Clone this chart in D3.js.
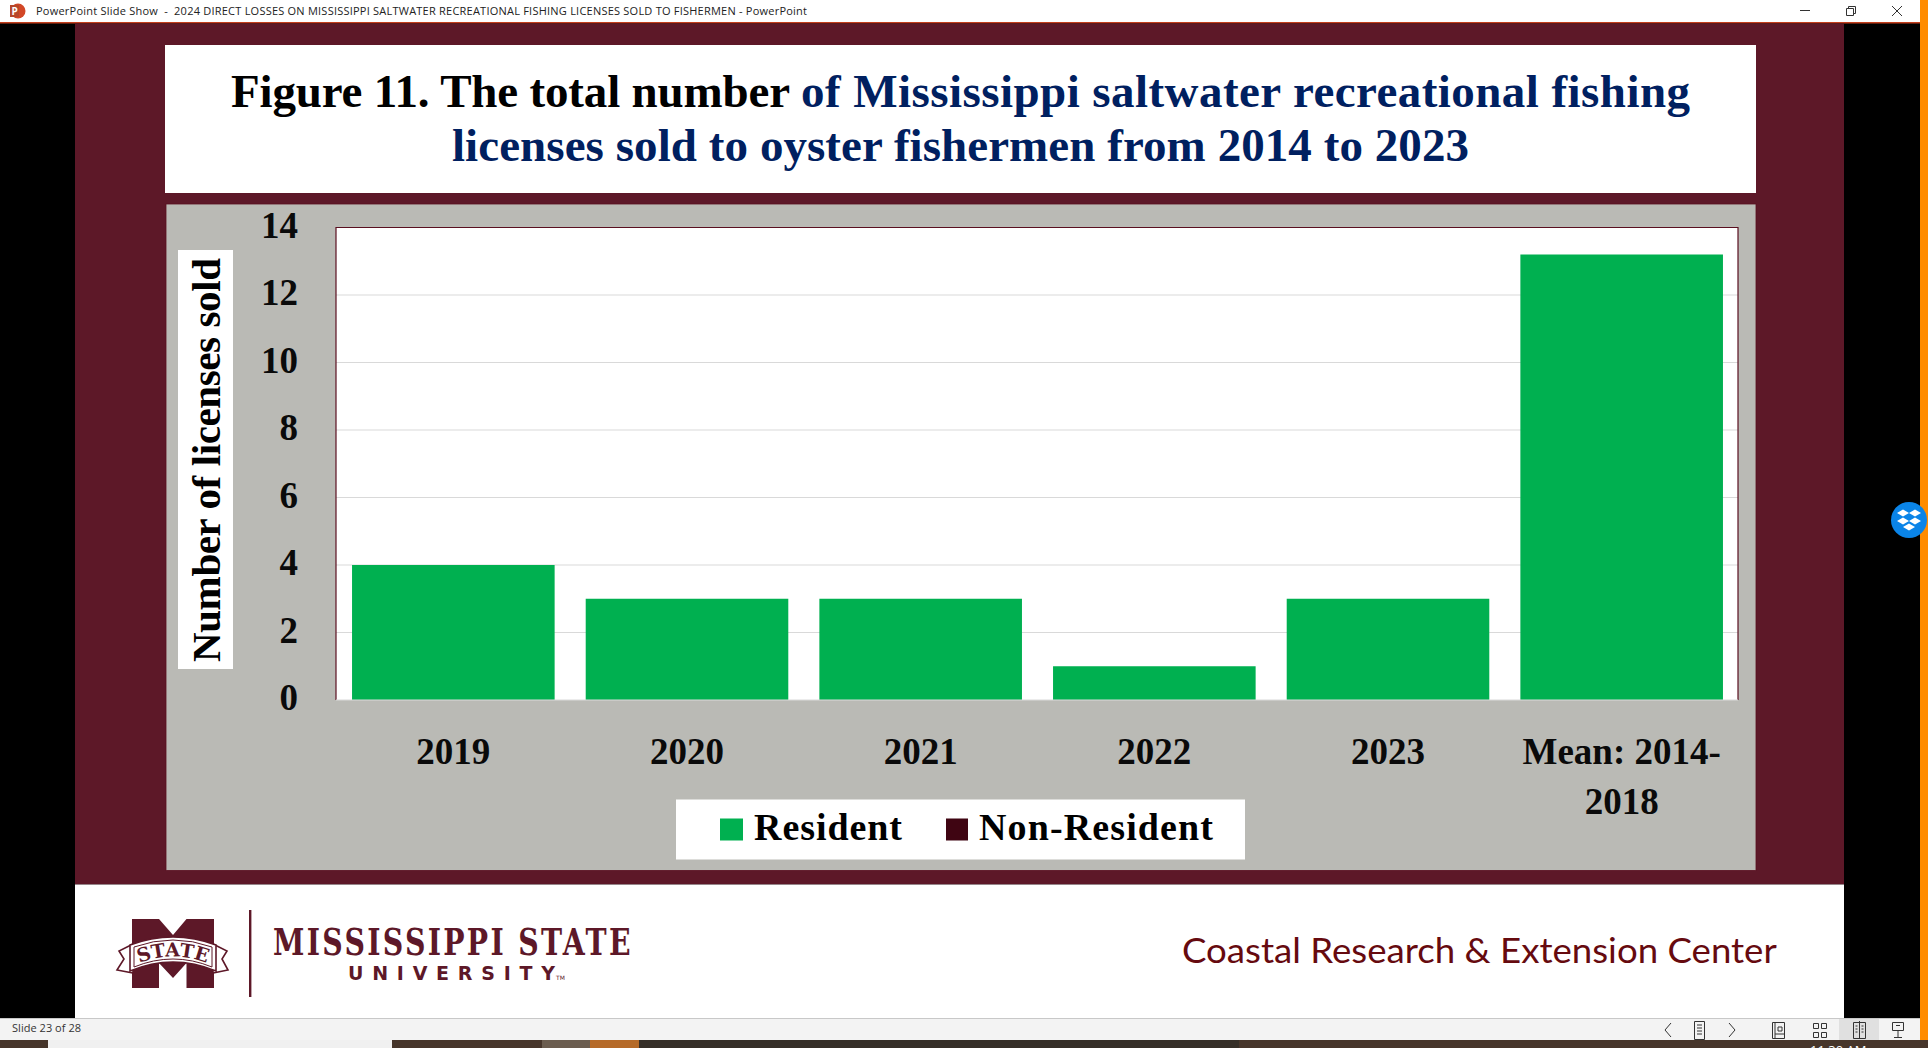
<!DOCTYPE html>
<html>
<head>
<meta charset="utf-8">
<script src="https://cdn.jsdelivr.net/npm/d3@7"></script>
<style>
  html,body{margin:0;padding:0;background:#000;overflow:hidden;}
  svg{display:block;}
  .serif{font-family:"Liberation Serif",serif;font-weight:bold;}
  .ui{font-family:"Open Sans",sans-serif;}
</style>
</head>
<body>
<svg id="chart" width="1928" height="1048"></svg>
<script>
// chart values
const categories = ["2019","2020","2021","2022","2023","Mean: 2014-2018"];
const resident = [4,3,3,1,3,13.2];
const nonResident = [0,0,0,0,0,0];
const yTicks = [0,2,4,6,8,10,12,14];
const seriesNames = ["Resident","Non-Resident"];

const maroon = "#5d1828", green = "#00b050", darkRed = "#3f0512", navy = "#002060", panel = "#babab5";

const svg = d3.select("#chart");

function box(parent,x,y,w,h,fill){
  return parent.append("rect").attr("x",x).attr("y",y).attr("width",w).attr("height",h).attr("fill",fill);
}
// stretch a text to the width it has in the slide (fonts differ from the original)
function fit(sel,target){
  const len = sel.node().getComputedTextLength();
  const n = sel.text().length;
  sel.style("letter-spacing",((target-len)/(n-1))+"px");
  return sel;
}
// same idea but scaling the glyphs sideways, for the logo style lettering
function squeeze(sel,x,y,target){
  const s = target/sel.node().getComputedTextLength();
  sel.attr("transform",`translate(${x},${y}) scale(${s},1)`);
  return sel;
}

/* window + slide background */
box(svg,0,0,1928,1048,"#000");
box(svg,0,0,1920,22,"#fff");
box(svg,0,22,1920,1.5,"#c43e1c");
box(svg,1920,0,8,1040,"#ff8c00");
box(svg,75,23.5,1769,861,maroon);
box(svg,75,884.5,1769,133.5,"#fff");

// title bar
svg.append("circle").attr("cx",18).attr("cy",11).attr("r",7.5).attr("fill","#d24726");
box(svg,10,5,9,12,"#b7472a");
svg.append("text").attr("class","ui").attr("x",11.5).attr("y",15).attr("font-size",10).attr("font-weight","bold").attr("fill","#fff").text("P");
svg.append("text").attr("class","ui").attr("x",36).attr("y",15).attr("font-size",11).attr("fill","#222")
  .style("white-space","pre")
  .text("PowerPoint Slide Show  -  2024 DIRECT LOSSES ON MISSISSIPPI SALTWATER RECREATIONAL FISHING LICENSES SOLD TO FISHERMEN - PowerPoint")
  .call(fit,771);
const winIcons = svg.append("g").attr("fill","none").attr("stroke","#333").attr("stroke-width",1);
winIcons.append("path").attr("d","M1800 10.5H1810");
winIcons.append("path").attr("d","M1846.5 8.5h7v7h-7zM1848.5 8.5v-2h7v7h-2");
winIcons.append("path").attr("d","M1892 6L1902 16M1902 6L1892 16");

/* title, each colour fitted on its own */
box(svg,165,45,1591,148,"#fff");
const t1 = svg.append("text").attr("class","serif").attr("y",107).attr("font-size",47);
t1.append("tspan").attr("x",231).attr("fill","#000").style("white-space","pre").text("Figure 11. The total number").call(fit,559);
t1.append("tspan").attr("x",801).attr("fill",navy).text("of Mississippi saltwater recreational fishing").call(fit,889);
svg.append("text").attr("class","serif").attr("x",452).attr("y",161).attr("font-size",47).attr("fill",navy)
  .text("licenses sold to oyster fishermen from 2014 to 2023").call(fit,1017);

/* chart panel */
box(svg,166,204,1590,666.5,panel).attr("stroke","#5a0f20").attr("stroke-width",0.8);

const plot = {left:336,right:1738,top:227.5,bottom:700};
const x = d3.scaleBand().domain(categories).range([plot.left+0.5,plot.right+0.5]).paddingInner(0.133).paddingOuter(0.0665);
const y = d3.scaleLinear().domain([0,14]).range([plot.bottom,plot.top]);

box(svg,plot.left,plot.top,plot.right-plot.left,plot.bottom-plot.top,"#fff");

// gridlines
svg.append("g").selectAll("line").data(yTicks.filter(d=>d>0&&d<14)).join("line")
  .attr("x1",plot.left).attr("x2",plot.right)
  .attr("y1",d=>y(d)).attr("y2",d=>y(d))
  .attr("stroke","#d9d9d9").attr("stroke-width",1);

// stacked bars
const rows = categories.map((c,i)=>({cat:c,Resident:resident[i],"Non-Resident":nonResident[i]}));
const stacked = d3.stack().keys(seriesNames)(rows);
const colors = d3.scaleOrdinal().domain(seriesNames).range([green,darkRed]);
svg.append("g").selectAll("g").data(stacked).join("g").attr("fill",d=>colors(d.key))
  .selectAll("rect").data(d=>d).join("rect")
  .attr("x",d=>x(d.data.cat)).attr("width",x.bandwidth())
  .attr("y",d=>y(d[1])).attr("height",d=>y(d[0])-y(d[1]));

// plot border, bottom is light
svg.append("path").attr("fill","none").attr("stroke","#5a0f20").attr("stroke-width",1.2)
  .attr("d",`M${plot.left} ${plot.bottom}V${plot.top}H${plot.right}V${plot.bottom}`);
svg.append("line").attr("x1",plot.left).attr("x2",plot.right).attr("y1",plot.bottom).attr("y2",plot.bottom)
  .attr("stroke","#d9d9d9").attr("stroke-width",1.2);

// y axis
const yAxis = svg.append("g").attr("transform",`translate(${plot.left},0)`)
  .call(d3.axisLeft(y).tickValues(yTicks).tickSize(0).tickPadding(38));
yAxis.select(".domain").remove();
yAxis.selectAll("text").attr("class","serif").attr("font-size",37).attr("fill","#0a0a0a").attr("dy","9.5px").attr("font-family",null);

// x axis, long label breaks after the hyphen
const xAxis = svg.append("g").attr("transform",`translate(0,${plot.bottom})`)
  .call(d3.axisBottom(x).tickSize(0).tickPadding(0));
xAxis.select(".domain").remove();
xAxis.selectAll("text").attr("class","serif").attr("font-size",37).attr("fill","#0a0a0a").attr("font-family",null)
  .each(function(d){
    const el = d3.select(this).text(null).attr("y",64).attr("dy",null);
    const parts = d.includes("-") ? [d.slice(0,d.indexOf("-")+1),d.slice(d.indexOf("-")+1)] : [d];
    parts.forEach((p,i)=>el.append("tspan").attr("x",0).attr("y",64+i*50).text(p));
  });

// y title
box(svg,178,250,55,419,"#fff");
svg.append("text").attr("class","serif").attr("font-size",41).attr("fill","#000")
  .attr("transform","translate(220,662) rotate(-90)")
  .text("Number of licenses sold").call(fit,404);

// legend
box(svg,676,799.5,569,60,"#fff");
const legendPos = [{sx:720,tx:754,tw:148,sw:23},{sx:946,tx:979,tw:234,sw:22}];
const legend = svg.append("g").selectAll("g").data(seriesNames).join("g");
legend.append("rect").attr("x",(d,i)=>legendPos[i].sx).attr("y",818.5).attr("width",(d,i)=>legendPos[i].sw).attr("height",22).attr("fill",d=>colors(d));
legend.append("text").attr("class","serif").attr("font-size",38).attr("fill","#000")
  .attr("x",(d,i)=>legendPos[i].tx).attr("y",840).text(d=>d)
  .each(function(d,i){ fit(d3.select(this),legendPos[i].tw); });

/* footer logo */
const logo = svg.append("g");
logo.append("path").attr("fill",maroon)
  .attr("d","M132 919H159L173 935L186.5 919H214V988H186.5V963L173 978L159 963V988H132Z");
const ribbon = logo.append("g").attr("fill","#fff").attr("stroke",maroon).attr("stroke-width",1.6);
ribbon.append("path").attr("d","M133 944L119 951L124 959L117 970L133 973Z");
ribbon.append("path").attr("d","M213 944L227 951L222 959L228 970L213 973Z");
ribbon.append("path").attr("d","M130 945Q173 929 216 945L216 971Q173 953 130 971Z");
logo.append("path").attr("d","M134 947Q173 933 212 947L212 967Q173 951 134 967Z").attr("fill","none").attr("stroke",maroon).attr("stroke-width",1);
logo.append("path").attr("id","stateArc").attr("fill","none").attr("d","M137 964Q173 949 209 964");
logo.append("text").attr("font-family","'DejaVu Serif',serif").attr("font-weight","bold").attr("font-size",19).attr("fill",maroon)
  .append("textPath").attr("href","#stateArc").attr("startOffset","50%").attr("text-anchor","middle").text("STATE");
box(logo,249,910,2.4,87,maroon);
logo.append("text").attr("font-family","'DejaVu Serif',serif").attr("font-weight","bold").attr("font-size",37).attr("fill",maroon)
  .style("letter-spacing","3px").text("MISSISSIPPI STATE").call(squeeze,273,955,360);
const uni = logo.append("text").attr("font-family","'DejaVu Sans',sans-serif").attr("font-weight","bold").attr("font-size",19).attr("fill",maroon)
  .attr("x",348).attr("y",980);
uni.append("tspan").text("UNIVERSIT");
uni.append("tspan").text("Y");
fit(uni,207);
uni.select("tspan:last-child").style("letter-spacing","0px");
logo.append("text").attr("font-family","'DejaVu Sans',sans-serif").attr("font-size",6).attr("fill",maroon)
  .attr("x",556).attr("y",980).text("TM");

svg.append("text").attr("font-family","Lato,sans-serif").attr("font-size",34).attr("fill","#660a0f")
  .text("Coastal Research & Extension Center").call(squeeze,1182,963,595);

/* status bar + taskbar */
box(svg,0,1018,1920,22,"#f3f3f3");
box(svg,0,1018,1920,1,"#c8c8c8");
svg.append("text").attr("class","ui").attr("x",12).attr("y",1032).attr("font-size",11).attr("fill","#333").text("Slide 23 of 28").call(fit,69);
box(svg,1839,1019,40,21,"#e0e0e0");
const status = svg.append("g").attr("fill","none").attr("stroke","#333").attr("stroke-width",1);
status.append("path").attr("d","M1671 1023L1665 1030L1671 1037");
status.append("path").attr("d","M1729 1023L1735 1030L1729 1037");
status.append("path").attr("d","M1694.5 1021.5h10v18h-10zM1697 1025h5M1697 1028h5M1697 1031h5M1697 1034h5");
status.append("path").attr("d","M1772.5 1022.5h12v16h-12zM1775 1022.5v16M1778 1027h4v4h-4zM1775 1034h9");
status.append("path").attr("d","M1813.5 1023.5h5v5h-5zM1821.5 1023.5h5v5h-5zM1813.5 1032.5h5v5h-5zM1821.5 1032.5h5v5h-5z");
status.append("path").attr("d","M1853.5 1022.5h12v16h-12zM1859.5 1021v18M1855.5 1026h2M1855.5 1029h2M1855.5 1032h2M1861.5 1026h2M1861.5 1029h2M1861.5 1032h2");
status.append("path").attr("d","M1892.5 1022.5h11v8h-11zM1898 1030.5v7M1894 1037.5h8M1896 1025.5h4");

box(svg,0,1040,1928,8,"#46352a");
box(svg,48,1040,344,8,"#f0f0f0");
box(svg,542,1040,48,8,"#6b5d4f");
box(svg,590,1040,49,8,"#b56a28");
box(svg,639,1040,600,8,"#352e27");
svg.append("text").attr("class","ui").attr("x",1810).attr("y",1055).attr("font-size",13).attr("fill","#fff").text("11:30 AM");

/* dropbox button on the window edge */
svg.append("circle").attr("cx",1909).attr("cy",520).attr("r",18).attr("fill","#0a84e8");
const diamonds = [[-6,-7],[6,-7],[-6,1],[6,1],[0,7]];
svg.append("g").attr("fill","#fff").selectAll("path").data(diamonds).join("path")
  .attr("d",d=>`M${1909+d[0]-6} ${520+d[1]}l6 -3.5l6 3.5l-6 3.5z`);
</script>
</body>
</html>
